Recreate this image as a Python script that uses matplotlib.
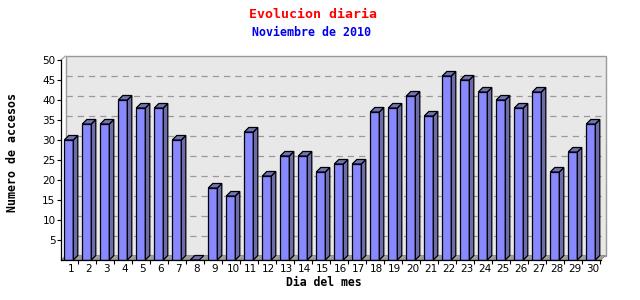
import matplotlib
matplotlib.use("Agg")
import matplotlib.pyplot as plt
from matplotlib.patches import Polygon
from matplotlib.ticker import FixedLocator, NullFormatter

dias = list(range(1, 31))
accesos = [30, 34, 34, 40, 38, 38, 30, 0, 18, 16,
           32, 21, 26, 26, 22, 24, 24, 37, 38, 41,
           36, 46, 45, 42, 40, 38, 42, 22, 27, 34]
y_ticks = [5, 10, 15, 20, 25, 30, 35, 40, 45, 50]

FRONT = "#8888ff"
SIDE = "#6c6ca8"
TOP = "#7272b4"
WALL = "#e8e8e8"
FLOOR = "#a0a0a0"

fig = plt.figure(figsize=(6.4, 3.0), dpi=100)
ax = fig.add_axes([61 / 640, 40 / 300, 540 / 640, 200 / 300])
ax.set_xlim(0, 30)
ax.set_ylim(0, 50)

# depth of the 3d effect, in data units (18 px per day, 4 px per visit)
dx = 4.5 / 18
dy = 4.5 / 4

# back wall, floor and grid
ax.add_patch(Polygon([(dx, dy), (30 + dx, dy), (30 + dx, 51), (dx, 51)],
                     closed=True, facecolor=WALL, edgecolor="#999999",
                     linewidth=1, clip_on=False, zorder=0))
ax.add_patch(Polygon([(0, 0), (30, 0), (30 + dx, dy), (dx, dy)],
                     closed=True, facecolor=FLOOR, edgecolor="#888888",
                     linewidth=0.6, clip_on=False, zorder=0.5))
ax.plot([0, dx], [50, 51], color="#999999", lw=0.8, clip_on=False, zorder=0.6)
for v in y_ticks[:-1]:
    ax.plot([dx, 30 + dx], [v + dy, v + dy], color="#999999", lw=0.9,
            ls=(0, (5, 4)), clip_on=False, zorder=0.6)

# 3d bars
bw = 9 / 18
off = 3.3 / 18
for d, v in zip(dias, accesos):
    x0 = d - 1 + off
    x1 = x0 + bw
    if v > 0:
        ax.bar(x0, v, width=bw, align="edge", color=FRONT, edgecolor="black",
               linewidth=0.9, zorder=3)
        ax.add_patch(Polygon([(x1, 0), (x1 + dx, dy), (x1 + dx, v + dy), (x1, v)],
                             closed=True, facecolor=SIDE, edgecolor="black",
                             linewidth=0.9, zorder=3))
    ax.add_patch(Polygon([(x0, v), (x1, v), (x1 + dx, v + dy), (x0 + dx, v + dy)],
                         closed=True, facecolor=TOP, edgecolor="black",
                         linewidth=0.9, zorder=3))

for s in ["top", "right"]:
    ax.spines[s].set_visible(False)
for s in ["left", "bottom"]:
    ax.spines[s].set_color("black")
    ax.spines[s].set_linewidth(0.9)
    ax.spines[s].set_zorder(4)

ax.set_yticks(y_ticks)
ax.set_yticklabels([str(t) for t in y_ticks])
ax.tick_params(axis="y", direction="out", length=3, width=0.8, pad=1,
               labelsize=7.5)

ax.set_xticks([d - 0.45 for d in dias])
ax.set_xticklabels([str(d) for d in dias])
ax.tick_params(axis="x", which="major", length=0, pad=3, labelsize=7.5)
ax.xaxis.set_minor_locator(FixedLocator([d - 0.05 for d in dias]))
ax.xaxis.set_minor_formatter(NullFormatter())
ax.tick_params(axis="x", which="minor", direction="out", length=3, width=0.8)

mono = "DejaVu Sans Mono"
fig.text(313 / 640, 1 - 14 / 300, "Evolucion diaria", color="red",
         family=mono, fontsize=9.5, fontweight="bold", ha="center", va="center")
fig.text(312 / 640, 1 - 32 / 300, "Noviembre de 2010", color="#0000ee",
         family=mono, fontsize=8.4, fontweight="bold", ha="center", va="center")
fig.text(324 / 640, 1 - 282 / 300, "Dia del mes", color="black",
         family=mono, fontsize=8.3, fontweight="bold", ha="center", va="center")
fig.text(13 / 640, 1 - 152 / 300, "Numero de accesos", color="black",
         family=mono, fontsize=8.4, fontweight="bold", ha="center", va="center",
         rotation=90)

fig.savefig("out.png", dpi=100, facecolor="white")
